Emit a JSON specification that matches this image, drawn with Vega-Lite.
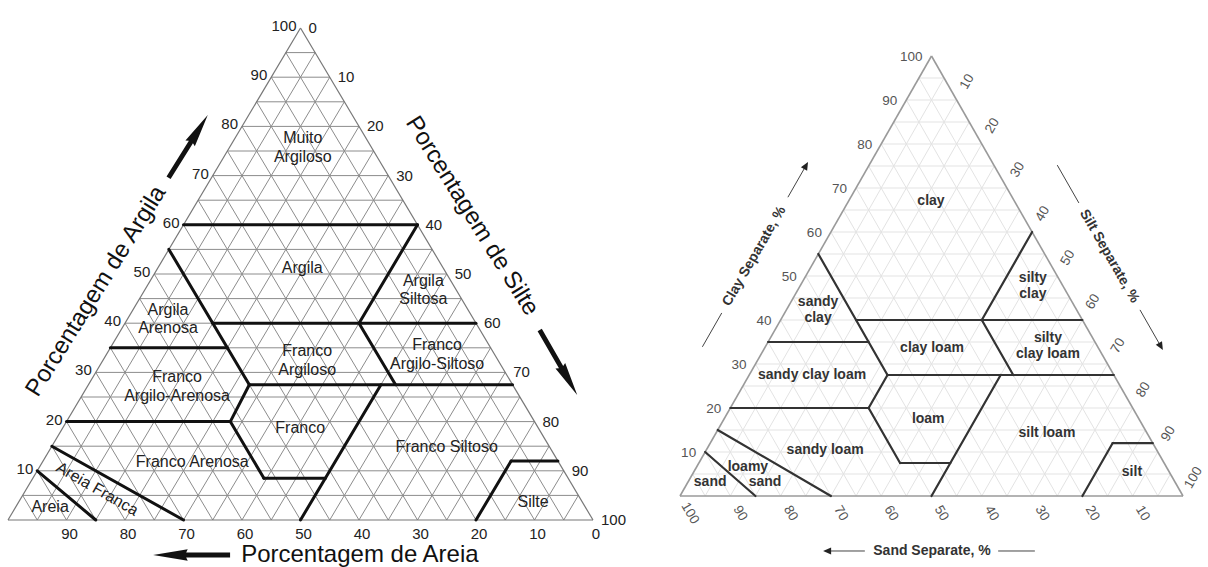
{
  "$schema": "https://vega.github.io/schema/vega-lite/v6.json",
  "padding": 0,
  "background": "white",
  "config": {"view": {"stroke": null}, "concat": {"spacing": 0}},
  "spacing": 0,
  "datasets": {
    "grid": [
      {"c1":5,"s1":0,"c2":5,"s2":95},{"c1":10,"s1":0,"c2":10,"s2":90},{"c1":15,"s1":0,"c2":15,"s2":85},{"c1":20,"s1":0,"c2":20,"s2":80},
      {"c1":25,"s1":0,"c2":25,"s2":75},{"c1":30,"s1":0,"c2":30,"s2":70},{"c1":35,"s1":0,"c2":35,"s2":65},{"c1":40,"s1":0,"c2":40,"s2":60},
      {"c1":45,"s1":0,"c2":45,"s2":55},{"c1":50,"s1":0,"c2":50,"s2":50},{"c1":55,"s1":0,"c2":55,"s2":45},{"c1":60,"s1":0,"c2":60,"s2":40},
      {"c1":65,"s1":0,"c2":65,"s2":35},{"c1":70,"s1":0,"c2":70,"s2":30},{"c1":75,"s1":0,"c2":75,"s2":25},{"c1":80,"s1":0,"c2":80,"s2":20},
      {"c1":85,"s1":0,"c2":85,"s2":15},{"c1":90,"s1":0,"c2":90,"s2":10},{"c1":95,"s1":0,"c2":95,"s2":5},
      {"c1":0,"s1":5,"c2":95,"s2":5},{"c1":0,"s1":10,"c2":90,"s2":10},{"c1":0,"s1":15,"c2":85,"s2":15},{"c1":0,"s1":20,"c2":80,"s2":20},
      {"c1":0,"s1":25,"c2":75,"s2":25},{"c1":0,"s1":30,"c2":70,"s2":30},{"c1":0,"s1":35,"c2":65,"s2":35},{"c1":0,"s1":40,"c2":60,"s2":40},
      {"c1":0,"s1":45,"c2":55,"s2":45},{"c1":0,"s1":50,"c2":50,"s2":50},{"c1":0,"s1":55,"c2":45,"s2":55},{"c1":0,"s1":60,"c2":40,"s2":60},
      {"c1":0,"s1":65,"c2":35,"s2":65},{"c1":0,"s1":70,"c2":30,"s2":70},{"c1":0,"s1":75,"c2":25,"s2":75},{"c1":0,"s1":80,"c2":20,"s2":80},
      {"c1":0,"s1":85,"c2":15,"s2":85},{"c1":0,"s1":90,"c2":10,"s2":90},{"c1":0,"s1":95,"c2":5,"s2":95},
      {"c1":0,"s1":95,"c2":95,"s2":0},{"c1":0,"s1":90,"c2":90,"s2":0},{"c1":0,"s1":85,"c2":85,"s2":0},{"c1":0,"s1":80,"c2":80,"s2":0},
      {"c1":0,"s1":75,"c2":75,"s2":0},{"c1":0,"s1":70,"c2":70,"s2":0},{"c1":0,"s1":65,"c2":65,"s2":0},{"c1":0,"s1":60,"c2":60,"s2":0},
      {"c1":0,"s1":55,"c2":55,"s2":0},{"c1":0,"s1":50,"c2":50,"s2":0},{"c1":0,"s1":45,"c2":45,"s2":0},{"c1":0,"s1":40,"c2":40,"s2":0},
      {"c1":0,"s1":35,"c2":35,"s2":0},{"c1":0,"s1":30,"c2":30,"s2":0},{"c1":0,"s1":25,"c2":25,"s2":0},{"c1":0,"s1":20,"c2":20,"s2":0},
      {"c1":0,"s1":15,"c2":15,"s2":0},{"c1":0,"s1":10,"c2":10,"s2":0},{"c1":0,"s1":5,"c2":5,"s2":0}
    ],
    "frame": [
      {"c1":0,"s1":0,"c2":0,"s2":100},{"c1":0,"s1":0,"c2":100,"s2":0},{"c1":0,"s1":100,"c2":100,"s2":0}
    ],
    "bndL": [
      {"c1":60,"s1":0,"c2":60,"s2":40},{"c1":60,"s1":40,"c2":40,"s2":40},{"c1":55,"s1":0,"c2":27.5,"s2":27.5},
      {"c1":40,"s1":15,"c2":40,"s2":60},{"c1":35,"s1":0,"c2":35,"s2":20},{"c1":40,"s1":40,"c2":27.5,"s2":52.5},
      {"c1":27.5,"s1":27.5,"c2":27.5,"s2":72.5},{"c1":20,"s1":0,"c2":20,"s2":28},{"c1":27.5,"s1":27.5,"c2":20,"s2":28},
      {"c1":20,"s1":28,"c2":8.5,"s2":39.5},{"c1":8.5,"s1":39.5,"c2":8.5,"s2":50},{"c1":27.5,"s1":50,"c2":0,"s2":50},
      {"c1":12,"s1":80,"c2":12,"s2":88},{"c1":12,"s1":80,"c2":0,"s2":80},{"c1":15,"s1":0,"c2":0,"s2":30},{"c1":10,"s1":0,"c2":0,"s2":15}
    ],
    "bndR": [
      {"c1":60,"s1":40,"c2":40,"s2":40},{"c1":55,"s1":0,"c2":27.5,"s2":27.5},
      {"c1":40,"s1":15,"c2":40,"s2":60},{"c1":35,"s1":0,"c2":35,"s2":20},{"c1":40,"s1":40,"c2":27.5,"s2":52.5},
      {"c1":27.5,"s1":27.5,"c2":27.5,"s2":72.5},{"c1":20,"s1":0,"c2":20,"s2":27.5},{"c1":27.5,"s1":27.5,"c2":20,"s2":27.5},
      {"c1":20,"s1":27.5,"c2":7.5,"s2":40},{"c1":7.5,"s1":40,"c2":7.5,"s2":50},{"c1":27.5,"s1":50,"c2":0,"s2":50},
      {"c1":12,"s1":80,"c2":12,"s2":88},{"c1":12,"s1":80,"c2":0,"s2":80},{"c1":15,"s1":0,"c2":0,"s2":30},{"c1":10,"s1":0,"c2":0,"s2":15}
    ],
    "decoR": [
      {"c1":33.9,"s1":-12.5,"c2":41.6,"s2":-12.5},{"c1":67.9,"s1":-12.5,"c2":75.0,"s2":-12.5},
      {"c1":75.2,"s1":37.4,"c2":66.6,"s2":46.0},{"c1":42.3,"s1":70.3,"c2":34.1,"s2":78.5},
      {"c1":-12.5,"s1":35.6,"c2":-12.5,"s2":43.0},{"c1":-12.5,"s1":69.5,"c2":-12.5,"s2":76.8}
    ],
    "labL1": [
      {"t":"Argila","c":51.2,"s":24.7},{"t":"Franco","c":18.7,"s":40.6},{"t":"Franco Arenosa","c":11.8,"s":25.6},
      {"t":"Franco Siltoso","c":14.8,"s":67.6},{"t":"Silte","c":3.7,"s":87.9},{"t":"Areia","c":2.6,"s":5.9}
    ],
    "labL2": [
      {"t":"Muito\nArgiloso","c":75.8,"s":12.5},{"t":"Argila\nSiltosa","c":46.8,"s":47.6},
      {"t":"Argila\nArenosa","c":40.9,"s":6.9},{"t":"Franco\nArgiloso","c":32.5,"s":34.9},{"t":"Franco\nArgilo-Siltoso","c":33.7,"s":56.5},
      {"t":"Franco\nArgilo-Arenosa","c":27.2,"s":15.3}
    ],
    "labR1": [
      {"t":"clay","c":67.0,"s":16.4},{"t":"clay loam","c":33.6,"s":33.3},{"t":"sandy clay loam","c":27.5,"s":12.5},
      {"t":"loam","c":17.5,"s":40.6},{"t":"silt loam","c":14.3,"s":65.8},{"t":"sandy loam","c":10.5,"s":23.6},
      {"t":"loamy","c":6.6,"s":10.2},{"t":"sand","c":3.2,"s":15.3},{"t":"sand","c":3.2,"s":4.4},{"t":"silt","c":5.5,"s":87.1}
    ],
    "labR2": [
      {"t":"silty\nclay","c":47.7,"s":46.3},{"t":"sandy\nclay","c":42.3,"s":6.3},{"t":"silty\nclay loam","c":34.1,"s":56.1}
    ],
    "tL": [
      {"v":10,"c":10,"s":0},{"v":20,"c":20,"s":0},{"v":30,"c":30,"s":0},{"v":40,"c":40,"s":0},{"v":50,"c":50,"s":0},
      {"v":60,"c":60,"s":0},{"v":70,"c":70,"s":0},{"v":80,"c":80,"s":0},{"v":90,"c":90,"s":0},{"v":100,"c":100,"s":0}
    ],
    "tR": [
      {"v":0,"c":100,"s":0},{"v":10,"c":90,"s":10},{"v":20,"c":80,"s":20},{"v":30,"c":70,"s":30},{"v":40,"c":60,"s":40},{"v":50,"c":50,"s":50},
      {"v":60,"c":40,"s":60},{"v":70,"c":30,"s":70},{"v":80,"c":20,"s":80},{"v":90,"c":10,"s":90},{"v":100,"c":0,"s":100}
    ],
    "tB": [
      {"v":0,"c":0,"s":100},{"v":10,"c":0,"s":90},{"v":20,"c":0,"s":80},{"v":30,"c":0,"s":70},{"v":40,"c":0,"s":60},{"v":50,"c":0,"s":50},
      {"v":60,"c":0,"s":40},{"v":70,"c":0,"s":30},{"v":80,"c":0,"s":20},{"v":90,"c":0,"s":10},{"v":100,"c":0,"s":0}
    ]
  },
  "hconcat": [
    {
      "width": 640,
      "height": 567,
      "encoding": {
        "x": {"field": "x", "type": "quantitative", "scale": {"domain": [-1.3675, 108.0342], "nice": false, "zero": false}, "axis": null},
        "y": {"field": "y", "type": "quantitative", "scale": {"domain": [-9.5528, 105.6911], "nice": false, "zero": false}, "axis": null}
      },
      "layer": [
        {"data": {"name": "grid"},
         "transform": [{"calculate": "datum.s1 + datum.c1 / 2", "as": "x"}, {"calculate": "datum.c1", "as": "y"}, {"calculate": "datum.s2 + datum.c2 / 2", "as": "x2"}, {"calculate": "datum.c2", "as": "y2"}],
         "mark": {"type": "rule", "color": "#8c8c8c", "strokeWidth": 1},
         "encoding": {"x2": {"field": "x2"}, "y2": {"field": "y2"}}},
        {"data": {"name": "frame"},
         "transform": [{"calculate": "datum.s1 + datum.c1 / 2", "as": "x"}, {"calculate": "datum.c1", "as": "y"}, {"calculate": "datum.s2 + datum.c2 / 2", "as": "x2"}, {"calculate": "datum.c2", "as": "y2"}],
         "mark": {"type": "rule", "color": "#777777", "strokeWidth": 1.2},
         "encoding": {"x2": {"field": "x2"}, "y2": {"field": "y2"}}},
        {"data": {"name": "bndL"},
         "transform": [{"calculate": "datum.s1 + datum.c1 / 2", "as": "x"}, {"calculate": "datum.c1", "as": "y"}, {"calculate": "datum.s2 + datum.c2 / 2", "as": "x2"}, {"calculate": "datum.c2", "as": "y2"}],
         "mark": {"type": "rule", "color": "#111111", "strokeWidth": 3, "strokeCap": "round"},
         "encoding": {"x2": {"field": "x2"}, "y2": {"field": "y2"}}},
        {"data": {"name": "labL1"},
         "transform": [{"calculate": "datum.s + datum.c / 2", "as": "x"}, {"calculate": "datum.c", "as": "y"}],
         "mark": {"type": "text", "font": "Liberation Sans", "fontSize": 16, "color": "#222222", "align": "center", "baseline": "middle"},
         "encoding": {"text": {"field": "t", "type": "nominal"}}},
        {"data": {"name": "labL2"},
         "transform": [{"calculate": "datum.s + datum.c / 2", "as": "x"}, {"calculate": "datum.c", "as": "y"}],
         "mark": {"type": "text", "font": "Liberation Sans", "fontSize": 16, "color": "#222222", "lineBreak": "\n", "lineHeight": 18.5, "align": "center", "baseline": "middle", "dy": -9},
         "encoding": {"text": {"field": "t", "type": "nominal"}}},
        {"data": {"values": [{"t": "Areia Franca", "c": 6.3, "s": 12.1}]},
         "transform": [{"calculate": "datum.s + datum.c / 2", "as": "x"}, {"calculate": "datum.c", "as": "y"}],
         "mark": {"type": "text", "font": "Liberation Sans", "fontSize": 16, "color": "#222222", "angle": 30, "align": "center", "baseline": "middle"},
         "encoding": {"text": {"field": "t", "type": "nominal"}}},
        {"data": {"name": "tL"},
         "transform": [{"calculate": "datum.s + datum.c / 2", "as": "x"}, {"calculate": "datum.c", "as": "y"}],
         "mark": {"type": "text", "font": "Liberation Sans", "fontSize": 15, "color": "#222222", "align": "right", "baseline": "middle", "dx": -4, "dy": -2},
         "encoding": {"text": {"field": "v", "type": "nominal"}}},
        {"data": {"name": "tR"},
         "transform": [{"calculate": "datum.s + datum.c / 2", "as": "x"}, {"calculate": "datum.c", "as": "y"}],
         "mark": {"type": "text", "font": "Liberation Sans", "fontSize": 15, "color": "#222222", "align": "left", "baseline": "middle", "dx": 8, "dy": 0},
         "encoding": {"text": {"field": "v", "type": "nominal"}}},
        {"data": {"name": "tB"},
         "transform": [{"filter": "datum.v < 100"}, {"calculate": "datum.s + datum.c / 2", "as": "x"}, {"calculate": "datum.c", "as": "y"}],
         "mark": {"type": "text", "font": "Liberation Sans", "fontSize": 15, "color": "#222222", "align": "center", "baseline": "middle", "dx": 3, "dy": 14},
         "encoding": {"text": {"field": "v", "type": "nominal"}}},
        {"data": {"values": [{"t": "Porcentagem de Argila", "c": 46.5, "s": -8.2}]},
         "transform": [{"calculate": "datum.s + datum.c / 2", "as": "x"}, {"calculate": "datum.c", "as": "y"}],
         "mark": {"type": "text", "font": "Liberation Sans", "fontSize": 24, "color": "#111111", "angle": 302, "align": "center", "baseline": "middle"},
         "encoding": {"text": {"field": "t", "type": "nominal"}}},
        {"data": {"values": [{"t": "Porcentagem de Silte", "c": 61.8, "s": 48.4}]},
         "transform": [{"calculate": "datum.s + datum.c / 2", "as": "x"}, {"calculate": "datum.c", "as": "y"}],
         "mark": {"type": "text", "font": "Liberation Sans", "fontSize": 24, "color": "#111111", "angle": 58, "align": "center", "baseline": "middle"},
         "encoding": {"text": {"field": "t", "type": "nominal"}}},
        {"data": {"values": [{"t": "Porcentagem de Areia", "c": -7.1, "s": 63.7}]},
         "transform": [{"calculate": "datum.s + datum.c / 2", "as": "x"}, {"calculate": "datum.c", "as": "y"}],
         "mark": {"type": "text", "font": "Liberation Sans", "fontSize": 24, "color": "#111111", "align": "center", "baseline": "middle"},
         "encoding": {"text": {"field": "t", "type": "nominal"}}},
        {"data": {"values": [{"c": 82.3, "s": -7.0}]},
         "transform": [{"calculate": "datum.s + datum.c / 2", "as": "x"}, {"calculate": "datum.c", "as": "y"}],
         "mark": {"type": "point", "shape": "M0,0L0.15,0.9L0.065,0.86L0.065,2L-0.065,2L-0.065,0.86L-0.15,0.9Z", "filled": true, "color": "#111111", "opacity": 1, "size": 5476, "angle": 32, "strokeWidth": 0}},
        {"data": {"values": [{"c": 25.4, "s": 84.6}]},
         "transform": [{"calculate": "datum.s + datum.c / 2", "as": "x"}, {"calculate": "datum.c", "as": "y"}],
         "mark": {"type": "point", "shape": "M0,0L0.15,0.9L0.065,0.86L0.065,2L-0.065,2L-0.065,0.86L-0.15,0.9Z", "filled": true, "color": "#111111", "opacity": 1, "size": 5625, "angle": 150, "strokeWidth": 0}},
        {"data": {"values": [{"c": -7.1, "s": 28.35}]},
         "transform": [{"calculate": "datum.s + datum.c / 2", "as": "x"}, {"calculate": "datum.c", "as": "y"}],
         "mark": {"type": "point", "shape": "M0,0L0.15,0.9L0.065,0.86L0.065,2L-0.065,2L-0.065,0.86L-0.15,0.9Z", "filled": true, "color": "#111111", "opacity": 1, "size": 5929, "angle": 270, "strokeWidth": 0}}
      ]
    },
    {
      "width": 568,
      "height": 567,
      "encoding": {
        "x": {"field": "x", "type": "quantitative", "scale": {"domain": [-7.9523, 104.9702], "nice": false, "zero": false}, "axis": null},
        "y": {"field": "y", "type": "quantitative", "scale": {"domain": [-16.1364, 112.7273], "nice": false, "zero": false}, "axis": null}
      },
      "layer": [
        {"data": {"name": "grid"},
         "transform": [{"calculate": "datum.s1 + datum.c1 / 2", "as": "x"}, {"calculate": "datum.c1", "as": "y"}, {"calculate": "datum.s2 + datum.c2 / 2", "as": "x2"}, {"calculate": "datum.c2", "as": "y2"}],
         "mark": {"type": "rule", "color": "#e3e3e3", "strokeWidth": 1},
         "encoding": {"x2": {"field": "x2"}, "y2": {"field": "y2"}}},
        {"data": {"name": "frame"},
         "transform": [{"calculate": "datum.s1 + datum.c1 / 2", "as": "x"}, {"calculate": "datum.c1", "as": "y"}, {"calculate": "datum.s2 + datum.c2 / 2", "as": "x2"}, {"calculate": "datum.c2", "as": "y2"}],
         "mark": {"type": "rule", "color": "#9a9a9a", "strokeWidth": 1.6},
         "encoding": {"x2": {"field": "x2"}, "y2": {"field": "y2"}}},
        {"data": {"name": "bndR"},
         "transform": [{"calculate": "datum.s1 + datum.c1 / 2", "as": "x"}, {"calculate": "datum.c1", "as": "y"}, {"calculate": "datum.s2 + datum.c2 / 2", "as": "x2"}, {"calculate": "datum.c2", "as": "y2"}],
         "mark": {"type": "rule", "color": "#333333", "strokeWidth": 2.2, "strokeCap": "round"},
         "encoding": {"x2": {"field": "x2"}, "y2": {"field": "y2"}}},
        {"data": {"name": "decoR"},
         "transform": [{"calculate": "datum.s1 + datum.c1 / 2", "as": "x"}, {"calculate": "datum.c1", "as": "y"}, {"calculate": "datum.s2 + datum.c2 / 2", "as": "x2"}, {"calculate": "datum.c2", "as": "y2"}],
         "mark": {"type": "rule", "color": "#444444", "strokeWidth": 1},
         "encoding": {"x2": {"field": "x2"}, "y2": {"field": "y2"}}},
        {"data": {"name": "labR1"},
         "transform": [{"calculate": "datum.s + datum.c / 2", "as": "x"}, {"calculate": "datum.c", "as": "y"}],
         "mark": {"type": "text", "font": "Liberation Sans", "fontSize": 14, "fontWeight": "bold", "color": "#333333", "align": "center", "baseline": "middle"},
         "encoding": {"text": {"field": "t", "type": "nominal"}}},
        {"data": {"name": "labR2"},
         "transform": [{"calculate": "datum.s + datum.c / 2", "as": "x"}, {"calculate": "datum.c", "as": "y"}],
         "mark": {"type": "text", "font": "Liberation Sans", "fontSize": 14, "fontWeight": "bold", "color": "#333333", "lineBreak": "\n", "lineHeight": 16, "align": "center", "baseline": "middle", "dy": -8},
         "encoding": {"text": {"field": "t", "type": "nominal"}}},
        {"data": {"name": "tL"},
         "transform": [{"calculate": "datum.s + datum.c / 2", "as": "x"}, {"calculate": "datum.c", "as": "y"}],
         "mark": {"type": "text", "font": "Liberation Sans", "fontSize": 13.5, "color": "#555555", "align": "right", "baseline": "middle", "dx": -9, "dy": 1},
         "encoding": {"text": {"field": "v", "type": "nominal"}}},
        {"data": {"name": "tR"},
         "transform": [{"filter": "datum.v > 0"}, {"calculate": "datum.s + datum.c / 2", "as": "x"}, {"calculate": "datum.c", "as": "y"}],
         "mark": {"type": "text", "font": "Liberation Sans", "fontSize": 13.5, "color": "#555555", "angle": 300, "align": "center", "baseline": "middle", "dx": 21},
         "encoding": {"text": {"field": "v", "type": "nominal"}}},
        {"data": {"name": "tB"},
         "transform": [{"filter": "datum.v > 0"}, {"calculate": "datum.s + datum.c / 2", "as": "x"}, {"calculate": "datum.c", "as": "y"}],
         "mark": {"type": "text", "font": "Liberation Sans", "fontSize": 13.5, "color": "#555555", "angle": 60, "align": "center", "baseline": "middle", "dx": 20},
         "encoding": {"text": {"field": "v", "type": "nominal"}}},
        {"data": {"values": [{"t": "Clay Separate, %", "c": 54.5, "s": -12.5}]},
         "transform": [{"calculate": "datum.s + datum.c / 2", "as": "x"}, {"calculate": "datum.c", "as": "y"}],
         "mark": {"type": "text", "font": "Liberation Sans", "fontSize": 14, "fontWeight": "bold", "color": "#333333", "angle": 300, "align": "center", "baseline": "middle"},
         "encoding": {"text": {"field": "t", "type": "nominal"}}},
        {"data": {"values": [{"t": "Silt Separate, %", "c": 54.5, "s": 58.1}]},
         "transform": [{"calculate": "datum.s + datum.c / 2", "as": "x"}, {"calculate": "datum.c", "as": "y"}],
         "mark": {"type": "text", "font": "Liberation Sans", "fontSize": 14, "fontWeight": "bold", "color": "#333333", "angle": 60, "align": "center", "baseline": "middle"},
         "encoding": {"text": {"field": "t", "type": "nominal"}}},
        {"data": {"values": [{"t": "Sand Separate, %", "c": -12.5, "s": 56.35}]},
         "transform": [{"calculate": "datum.s + datum.c / 2", "as": "x"}, {"calculate": "datum.c", "as": "y"}],
         "mark": {"type": "text", "font": "Liberation Sans", "fontSize": 14, "fontWeight": "bold", "color": "#333333", "align": "center", "baseline": "middle"},
         "encoding": {"text": {"field": "t", "type": "nominal"}}},
        {"data": {"values": [{"c": 75.9, "s": -12.5}]},
         "transform": [{"calculate": "datum.s + datum.c / 2", "as": "x"}, {"calculate": "datum.c", "as": "y"}],
         "mark": {"type": "point", "shape": "M0,0L0.45,1L-0.45,1Z", "filled": true, "color": "#222222", "opacity": 1, "size": 256, "angle": 30, "strokeWidth": 0}},
        {"data": {"values": [{"c": 33.2, "s": 79.4}]},
         "transform": [{"calculate": "datum.s + datum.c / 2", "as": "x"}, {"calculate": "datum.c", "as": "y"}],
         "mark": {"type": "point", "shape": "M0,0L0.45,1L-0.45,1Z", "filled": true, "color": "#222222", "opacity": 1, "size": 256, "angle": 150, "strokeWidth": 0}},
        {"data": {"values": [{"c": -12.5, "s": 34.7}]},
         "transform": [{"calculate": "datum.s + datum.c / 2", "as": "x"}, {"calculate": "datum.c", "as": "y"}],
         "mark": {"type": "point", "shape": "M0,0L0.45,1L-0.45,1Z", "filled": true, "color": "#222222", "opacity": 1, "size": 256, "angle": 270, "strokeWidth": 0}}
      ]
    }
  ]
}
